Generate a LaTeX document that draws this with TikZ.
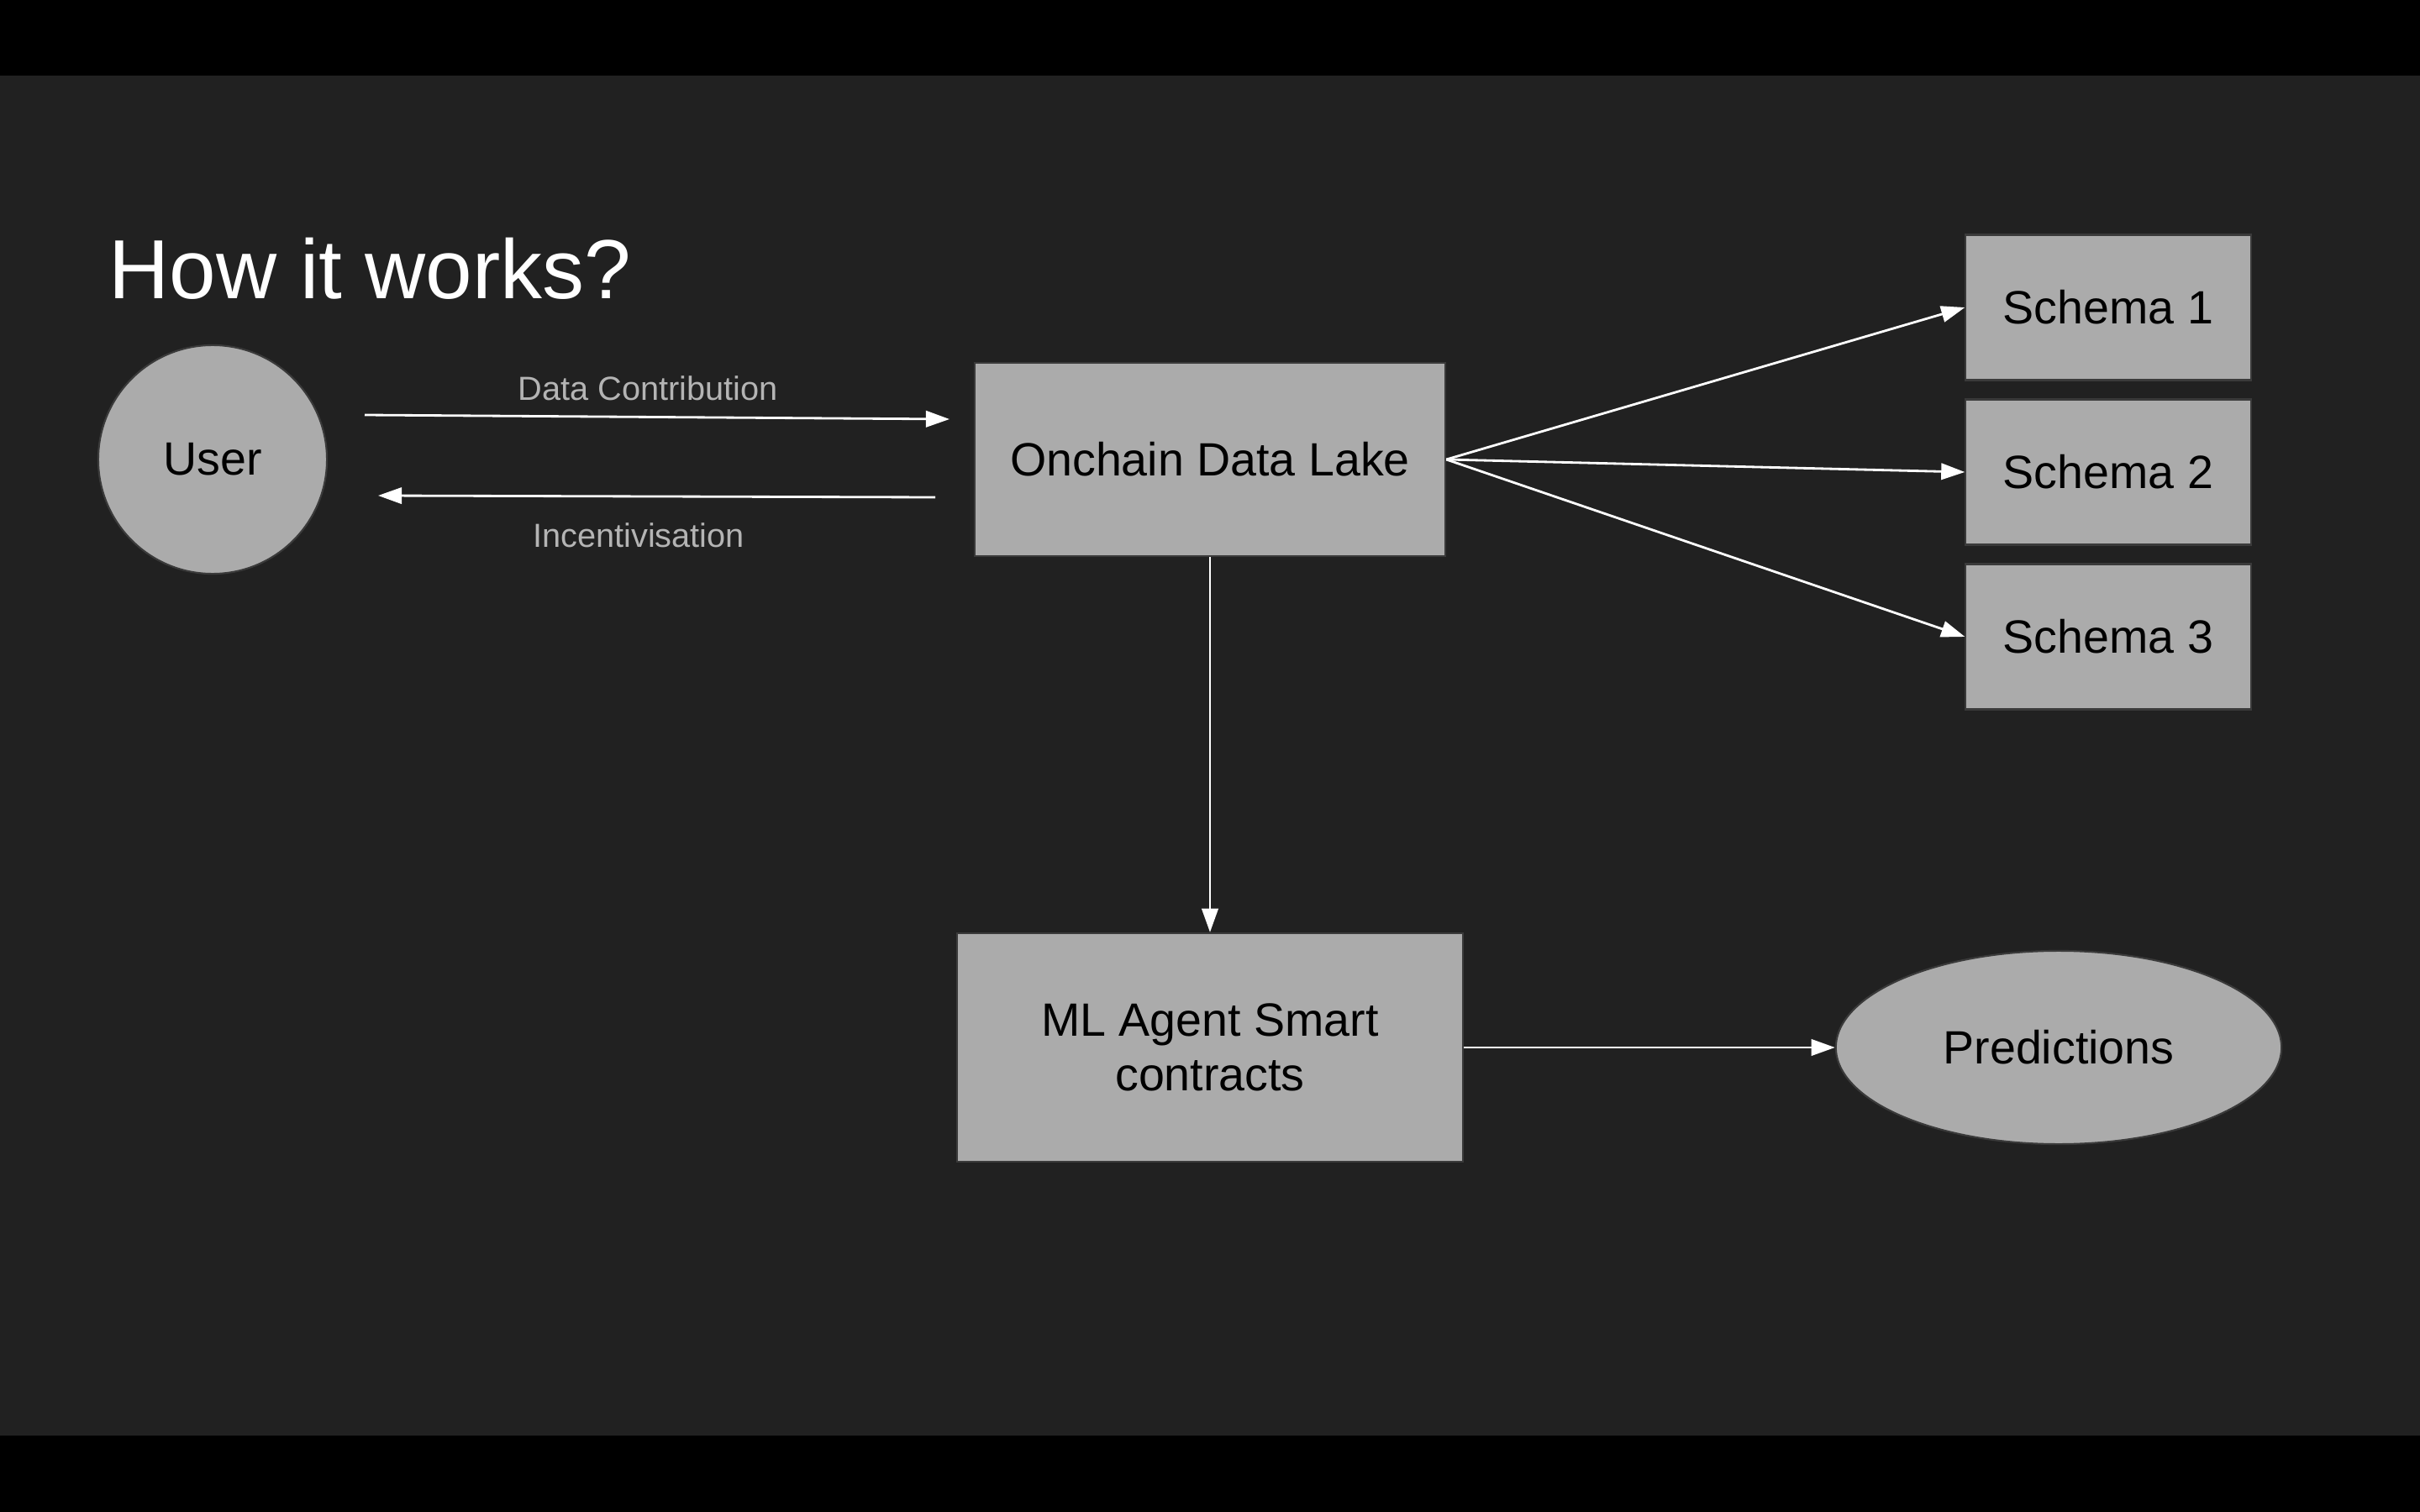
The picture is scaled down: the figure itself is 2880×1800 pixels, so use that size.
\documentclass[tikz,border=0pt]{standalone}
\usepackage{fontspec}
\setmainfont{Liberation Sans}
\usetikzlibrary{arrows.meta, shapes.geometric}

\definecolor{slidebg}{HTML}{212121}
\definecolor{boxfill}{HTML}{ABABAB}
\definecolor{boxline}{HTML}{3A3A3A}
\definecolor{taggray}{HTML}{B4B4B4}

\begin{document}
\begin{tikzpicture}[> = {Triangle[length = 8pt, width = 5.5pt]}, x = 0.01cm, y = -0.01cm,
	block/.style = {draw = boxline, fill = boxfill, line width = 0.6pt, inner sep = 0pt, align = center, font = \fontsize{15.8}{18.4}\selectfont},
	flow/.style = {->, white, line width = 0.8pt},
	tag/.style = {taggray, inner sep = 0pt, anchor = base, font = \fontsize{11.3}{13}\selectfont}]

	% Slide background
	
	\fill [black] (0, 0) rectangle (2880, 1800);
	\fill [slidebg] (0, 90) rectangle (2880, 1709);
	
	% Title
	
	\node (title) [anchor = base west, inner sep = 0pt, white, font = \fontsize{28.4}{34}\selectfont] at (129, 356) {How it works?};
	
	% Blocks
	
	\node (user) [block, circle, minimum size = 2.72cm] at (253, 547) {User};
	\node (lake) [block, minimum width = 5.6cm, minimum height = 2.3cm] at (1440, 547) {Onchain Data Lake};
	\node (schemaA) [block, minimum width = 3.39cm, minimum height = 1.73cm] at (2509, 366) {Schema 1};
	\node (schemaB) [block, minimum width = 3.39cm, minimum height = 1.73cm] at (2509, 562) {Schema 2};
	\node (schemaC) [block, minimum width = 3.39cm, minimum height = 1.73cm] at (2509, 758) {Schema 3};
	\node (agent) [block, minimum width = 6.02cm, minimum height = 2.72cm] at (1440, 1247) {ML Agent Smart\\contracts};
	\node (predict) [block, ellipse, minimum width = 5.3cm, minimum height = 2.3cm] at (2450, 1247) {Predictions};
	
	% User <-> data lake
	
	\coordinate (giveA) at (434, 494);
	\coordinate (giveB) at (1130, 499);
	\coordinate (payA) at (1113, 592);
	\coordinate (payB) at (450, 590);
	
	\draw [flow] (giveA) -- (giveB);
	\draw [flow] (payA) -- (payB);
	\node (givelabel) [tag] at (771, 477) {Data Contribution};
	\node (paylabel) [tag] at (760, 651) {Incentivisation};
	
	% Data lake outputs
	
	\draw [flow] (lake.east) -- (schemaA.west);
	\draw [flow] (lake.east) -- (schemaB.west);
	\draw [flow] (lake.east) -- (schemaC.west);
	\draw [flow] (lake.south) -- (agent.north);
	\draw [flow] (agent.east) -- (predict.west);
	
\end{tikzpicture}
\end{document}
